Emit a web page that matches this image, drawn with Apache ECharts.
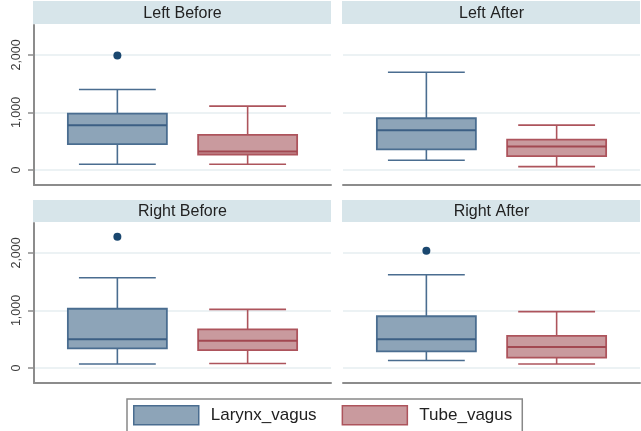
<!DOCTYPE html>
<html>
<head>
<meta charset="utf-8">
<script src="https://cdn.jsdelivr.net/npm/echarts@6/dist/echarts.min.js"></script>
<style>
  html, body { margin: 0; padding: 0; background: #fff; }
  #chart { width: 641px; height: 431px; }
</style>
</head>
<body>
<div id="chart"></div>
<script>
    // 分组与面板
    const groups = ['Larynx_vagus', 'Tube_vagus'];
    const panels = ['Left Before', 'Left After', 'Right Before', 'Right After'];
    const yTicks = [0, 1000, 2000];

    // 箱线图数据: [min, q1, median, q3, max]
    const leftBeforeLarynx = [100, 450, 780, 980, 1400];
    const leftBeforeTube = [100, 270, 320, 610, 1110];
    const leftAfterLarynx = [170, 360, 690, 900, 1700];
    const leftAfterTube = [60, 240, 410, 530, 780];
    const rightBeforeLarynx = [70, 340, 500, 1030, 1570];
    const rightBeforeTube = [80, 310, 475, 670, 1020];
    const rightAfterLarynx = [130, 290, 500, 900, 1620];
    const rightAfterTube = [70, 180, 365, 560, 980];

    // 离群值
    const leftBeforeOutliers = [1990];
    const leftAfterOutliers = [];
    const rightBeforeOutliers = [2280];
    const rightAfterOutliers = [2040];

    const larynxStats = [leftBeforeLarynx, leftAfterLarynx, rightBeforeLarynx, rightAfterLarynx];
    const tubeStats = [leftBeforeTube, leftAfterTube, rightBeforeTube, rightAfterTube];
    const outliers = [leftBeforeOutliers, leftAfterOutliers, rightBeforeOutliers, rightAfterOutliers];

    (function() {
        const BOX_W = 0.76;
        const CAP_W = 0.59;
        const colors = {
            Larynx_vagus: { fill: '#8da4b8', stroke: '#4a6d90', median: '#3c5f84' },
            Tube_vagus: { fill: '#c99a9e', stroke: '#ad545c', median: '#a24851' }
        };

        // 面板布局
        const layout = [
            { left: 34, top: 25, stripY: 1, stripH: 23 },
            { left: 343, top: 25, stripY: 1, stripH: 23 },
            { left: 34, top: 223, stripY: 200, stripH: 22 },
            { left: 343, top: 223, stripY: 200, stripH: 22 }
        ];
        const panelW = 297;
        const panelH = 160;

        function makeRender(c) {
            return function(params, api) {
                const x = api.value(0);
                const lo = api.coord([x, api.value(1)]);
                const q1 = api.coord([x, api.value(2)]);
                const med = api.coord([x, api.value(3)]);
                const q3 = api.coord([x, api.value(4)]);
                const hi = api.coord([x, api.value(5)]);
                const bw = api.size([BOX_W, 0])[0];
                const cw = api.size([CAP_W, 0])[0];
                const cx = med[0];
                const lineStyle = { stroke: c.stroke, lineWidth: 1.6 };
                return {
                    type: 'group',
                    children: [
                        { type: 'line', shape: { x1: cx, y1: q3[1], x2: cx, y2: hi[1] }, style: lineStyle },
                        { type: 'line', shape: { x1: cx, y1: q1[1], x2: cx, y2: lo[1] }, style: lineStyle },
                        { type: 'line', shape: { x1: cx - cw / 2, y1: hi[1], x2: cx + cw / 2, y2: hi[1] }, style: lineStyle },
                        { type: 'line', shape: { x1: cx - cw / 2, y1: lo[1], x2: cx + cw / 2, y2: lo[1] }, style: lineStyle },
                        { type: 'rect', shape: { x: cx - bw / 2, y: q3[1], width: bw, height: q1[1] - q3[1] },
                          style: { fill: c.fill, stroke: c.stroke, lineWidth: 1.8 } },
                        { type: 'line', shape: { x1: cx - bw / 2, y1: med[1], x2: cx + bw / 2, y2: med[1] },
                          style: { stroke: c.median, lineWidth: 2 } }
                    ]
                };
            };
        }

        const grids = [], xAxes = [], yAxes = [], series = [], graphics = [];
        panels.forEach(function(name, i) {
            const L = layout[i];
            const isLeft = (i % 2 === 0);
            grids.push({ left: L.left, top: L.top, width: panelW, height: panelH });
            xAxes.push({
                gridIndex: i, type: 'value', min: 0.36, max: 2.64,
                axisLine: { show: true, onZero: false, lineStyle: { color: '#8c8c8c', width: 2 } },
                axisTick: { show: false }, axisLabel: { show: false }, splitLine: { show: false }
            });
            yAxes.push({
                gridIndex: i, type: 'value', min: -260, max: 2520,
                axisLine: { show: isLeft, onZero: false, lineStyle: { color: '#8c8c8c', width: 2 } },
                axisTick: { show: isLeft, length: 6, customValues: yTicks, lineStyle: { color: '#8c8c8c', width: 1.5 } },
                axisLabel: {
                    show: isLeft, customValues: yTicks, rotate: 90, margin: 11,
                    fontFamily: 'Liberation Sans', fontSize: 12.5, color: '#3a3a3a',
                    formatter: function(v) { return v.toLocaleString('en-US'); }
                },
                splitLine: { show: true, lineStyle: { color: '#e6eef1', width: 1.5 } }
            });
            // 箱体
            [larynxStats[i], tubeStats[i]].forEach(function(stats, g) {
                series.push({
                    name: groups[g], type: 'custom', xAxisIndex: i, yAxisIndex: i,
                    itemStyle: { color: colors[groups[g]].fill, borderColor: colors[groups[g]].stroke },
                    encode: { x: 0, y: [1, 2, 3, 4, 5] },
                    renderItem: makeRender(colors[groups[g]]),
                    data: [[g + 1].concat(stats)]
                });
            });
            // 离群点
            series.push({
                name: groups[0], type: 'scatter', xAxisIndex: i, yAxisIndex: i,
                symbolSize: 8, itemStyle: { color: '#1a476f', opacity: 1 },
                data: outliers[i].map(function(v) { return [1, v]; })
            });
            // 面板标题条
            graphics.push({
                type: 'rect', left: L.left - 1, top: L.stripY,
                shape: { width: panelW + 1, height: L.stripH },
                style: { fill: '#d7e5ea' }
            });
            graphics.push({
                type: 'text', x: L.left + panelW / 2, y: L.stripY + L.stripH / 2 + 1,
                style: { text: name, fill: '#222', font: '16px "Liberation Sans"', align: 'center', verticalAlign: 'middle' }
            });
        });

        const chart = echarts.init(document.getElementById('chart'));
        chart.setOption({
            animation: false,
            backgroundColor: '#fff',
            grid: grids,
            xAxis: xAxes,
            yAxis: yAxes,
            graphic: graphics,
            legend: {
                left: 127, top: 399,
                padding: [6, 10, 7, 6],
                itemWidth: 65, itemHeight: 19, itemGap: 25,
                borderColor: '#888', borderWidth: 1.5,
                textStyle: { fontFamily: 'Liberation Sans', fontSize: 17, color: '#222', padding: [0, 0, 0, 7] },
                data: groups.map(function(g) {
                    return { name: g, icon: 'rect', itemStyle: { color: colors[g].fill, borderColor: colors[g].stroke, borderWidth: 1.5 } };
                })
            },
            series: series
        });
    })();
</script>
</body>
</html>
